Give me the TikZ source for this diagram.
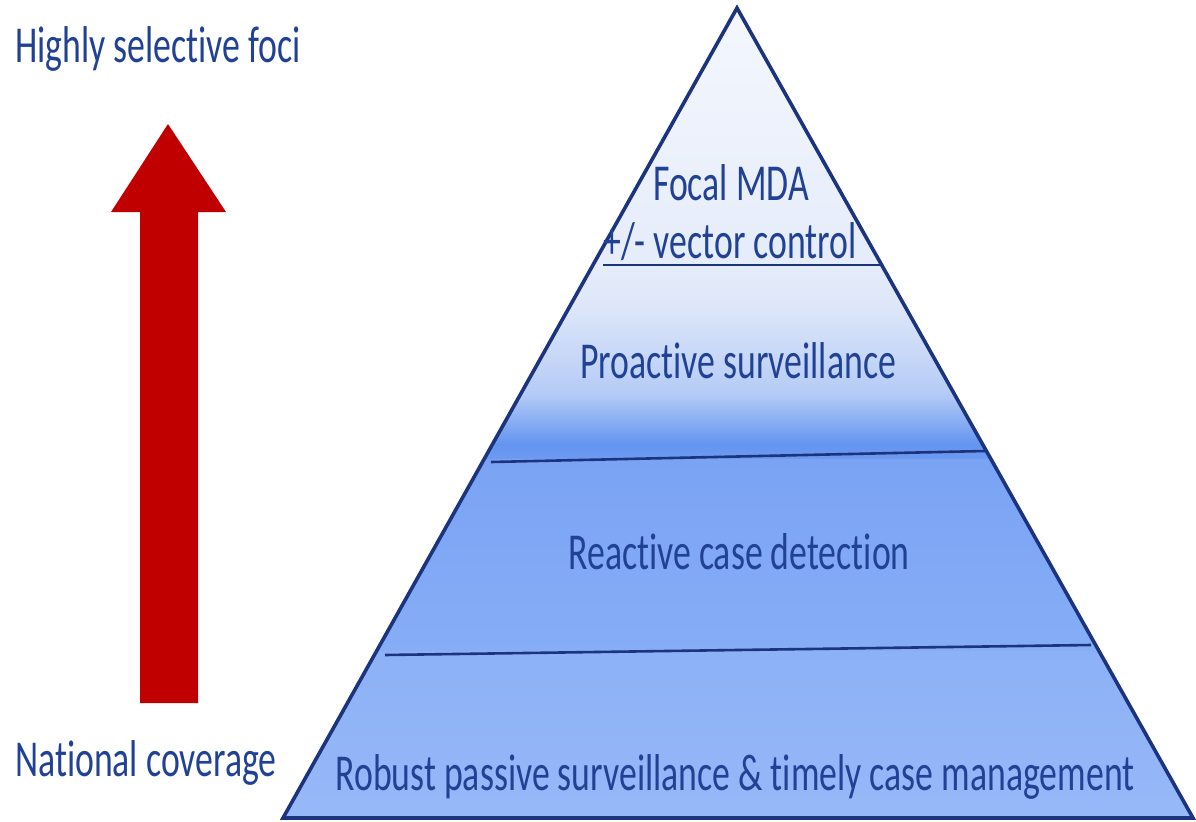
\documentclass[tikz,border=0pt]{standalone}
\usepackage{fontspec}
\setmainfont[FakeStretch=0.69,Ligatures=NoCommon]{Carlito}
\definecolor{txtblue}{RGB}{33,66,148}
\definecolor{navy}{RGB}{28,52,125}
\definecolor{arrred}{RGB}{192,0,0}
\definecolor{cA}{HTML}{F4F7FD}
\definecolor{cB}{HTML}{E5ECFA}
\definecolor{cC}{HTML}{DDE6F9}
\definecolor{cD}{HTML}{B4CBF6}
\definecolor{cE}{HTML}{6394EF}
\definecolor{cF}{HTML}{6F9CF2}
\definecolor{cG}{HTML}{7AA3F4}
\definecolor{cH}{HTML}{86ADF6}
\definecolor{cI}{HTML}{8DB1F7}
\definecolor{cJ}{HTML}{97B8F8}
\tikzset{
  lbl/.style={text=txtblue, font=\fontsize{52}{54}\selectfont, inner sep=0pt, anchor=base},
  divider/.style={draw=navy, line width=2.6bp},
}
\begin{document}
\begin{tikzpicture}[x=1bp,y=-1bp]
\useasboundingbox (0,0) rectangle (1196,822);
\coordinate (apex) at (737,8);
\coordinate (bl) at (283,818);
\coordinate (br) at (1193,818);
% gradient fill
\begin{scope}
\clip (apex) -- (br) -- (bl) -- cycle;
\shade[top color=cA, bottom color=cB] (270,7) rectangle (1200,266);
\shade[top color=cB, bottom color=cC] (270,265) rectangle (1200,310);
\shade[top color=cC, bottom color=cD] (270,309) rectangle (1200,395);
\shade[top color=cD, bottom color=cE] (270,394) rectangle (1200,445);
\shade[top color=cE, bottom color=cF] (270,444) rectangle (1200,460);
\shade[top color=cG, bottom color=cH] (270,459) rectangle (1200,652);
\shade[top color=cI, bottom color=cJ] (270,651) rectangle (1200,820);
\end{scope}
% dividers
\coordinate (d1l) at (603,265);
\coordinate (d1r) at (882,265);
\coordinate (d2l) at (491,462);
\coordinate (d2r) at (985,451);
\coordinate (d3l) at (385,655);
\coordinate (d3r) at (1091,645);
\draw[divider] (d1l) -- (d1r);
\draw[divider] (d2l) -- (d2r);
\draw[divider] (d3l) -- (d3r);
% outline
\draw[navy, line width=3.6bp, line join=miter] (apex) -- (br) -- (bl) -- cycle;
% labels
\node[lbl] (focal) at (731,200) {Focal MDA};
\node[lbl] (vector) at (730,258) {+/- vector control};
\node[lbl] (proactive) at (738,378) {Proactive surveillance};
\node[lbl] (reactive) at (739,569) {Reactive case detection};
\node[lbl] (robust) at (735,790) {Robust passive surveillance \& timely case management};
\node[lbl, anchor=base west] (high) at (15,63) {Highly selective foci};
\node[lbl, anchor=base west] (national) at (15,776) {National coverage};
% red arrow
\fill[arrred] (168,124) -- (226,212) -- (198,212) -- (198,703) -- (140,703) -- (140,212) -- (111,212) -- cycle;
\end{tikzpicture}
\end{document}
